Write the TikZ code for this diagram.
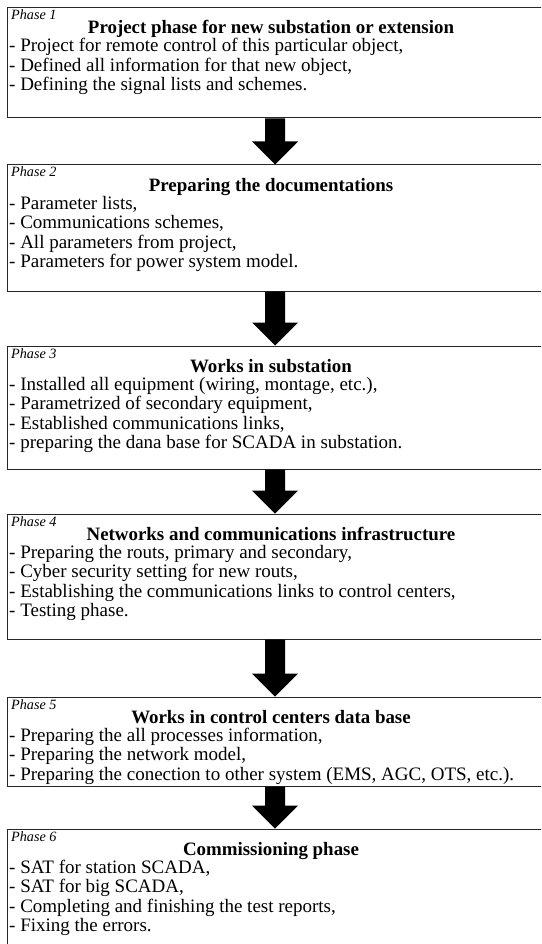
\documentclass[tikz,border=0pt]{standalone}
\usepackage{fontspec}
\setmainfont{Liberation Serif}
\usetikzlibrary{calc}

\tikzset{
  stagebox/.style={draw=black!85, line width=1pt, minimum width=538pt, inner sep=0pt},
  stagelabel/.style={anchor=base west, inner sep=0pt, font=\fontsize{14.2}{15}\selectfont\itshape},
  stagetitle/.style={anchor=base, inner sep=0pt, font=\fontsize{18.9}{19.3}\selectfont\bfseries},
  stageitem/.style={anchor=base west, inner sep=0pt, font=\fontsize{19}{19.3}\selectfont},
  bigarrow/.style={fill=black, draw=none}
}

% #1 name, #2 top, #3 bottom, #4 label, #5 title, #6 list of items
\newcommand\stage[6]{%
  \node[stagebox, minimum height=#3-#2] (#1) at (276, {(#2+#3)/2}) {};
  \node[stagelabel] (#1-label) at (11, #2+12) {#4};
  \node[stagetitle] (#1-title) at (271, #2+26) {#5};
  \foreach \itm [count=\i] in {#6}
    \node[stageitem] (#1-item\i) at (9, {#2+44.5+19.3*(\i-1)}) {\itm};
}

% block arrow from the bottom of one stage to the top of the next
\newcommand\stagearrow[2]{%
  \fill[bigarrow] ($(#1.south)+(-11,0)$) -- ($(#2.north)+(-11,-23)$)
    -- ($(#2.north)+(-24,-23)$) -- ($(#2.north)+(-1,0)$)
    -- ($(#2.north)+(22,-23)$) -- ($(#2.north)+(9,-23)$)
    -- ($(#1.south)+(9,0)$) -- cycle;
}

\begin{document}
\begin{tikzpicture}[x=1pt, y=-1pt]
  \path[use as bounding box, fill=white] (0,0) rectangle (541,944);
  \clip (0,0) rectangle (541,944);

  \stage{p1}{7.5}{118}{Phase 1}{Project phase for new substation or extension}{
    {- Project for remote control of this particular object,},
    {- Defined all information for that new object,},
    {- Defining the signal lists and schemes.}}

  \stage{p2}{165}{291}{Phase 2}{Preparing the documentations}{
    {- Parameter lists,},
    {- Communications schemes,},
    {- All parameters from project,},
    {- Parameters for power system model.}}

  \stage{p3}{346}{469}{Phase 3}{Works in substation}{
    {- Installed all equipment (wiring, montage, etc.),},
    {- Parametrized of secondary equipment,},
    {- Established communications links,},
    {- preparing the dana base for SCADA in substation.}}

  \stage{p4}{514}{639}{Phase 4}{Networks and communications infrastructure}{
    {- Preparing the routs, primary and secondary,},
    {- Cyber security setting for new routs,},
    {- Establishing the communications links to control centers,},
    {- Testing phase.}}

  \stage{p5}{697}{786}{Phase 5}{Works in control centers data base}{
    {- Preparing the all processes information,},
    {- Preparing the network model,},
    {- Preparing the conection to other system (EMS, AGC, OTS, etc.).}}

  \stage{p6}{829}{960}{Phase 6}{Commissioning phase}{
    {- SAT for station SCADA,},
    {- SAT for big SCADA,},
    {- Completing and finishing the test reports,},
    {- Fixing the errors.}}

  \stagearrow{p1}{p2}
  \stagearrow{p2}{p3}
  \stagearrow{p3}{p4}
  \stagearrow{p4}{p5}
  \stagearrow{p5}{p6}
\end{tikzpicture}
\end{document}
